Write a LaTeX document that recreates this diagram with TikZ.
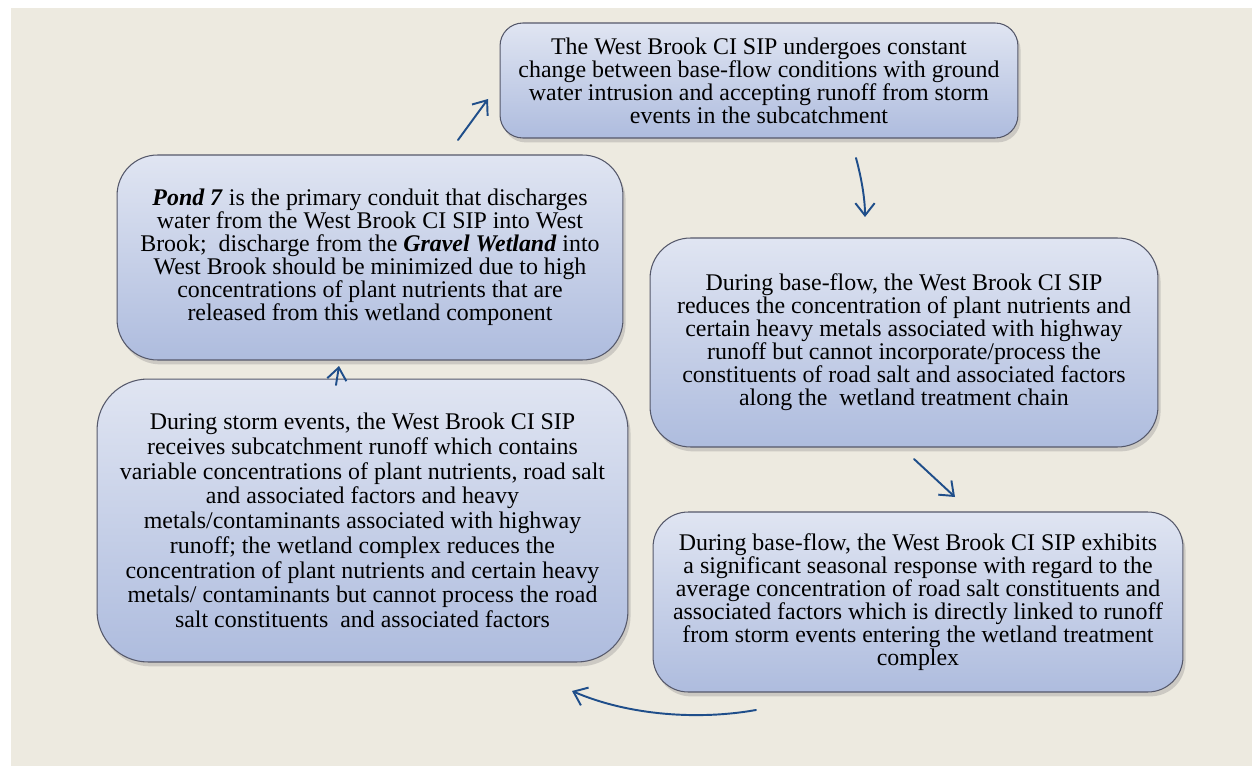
\documentclass[tikz,border=0pt]{standalone}
\usepackage{fontspec}
\setmainfont{Liberation Serif}
\definecolor{PageBeige}{HTML}{EDEAE0}
\definecolor{BoxTop}{HTML}{E0E5F2}
\definecolor{BoxBottom}{HTML}{AEBCDE}
\definecolor{BoxEdge}{HTML}{55586A}
\definecolor{FlowBlue}{HTML}{1F4E8A}
\usetikzlibrary{arrows.meta, positioning, calc, shadows}

\begin{document}
\begin{tikzpicture}[x=0.02cm, y=-0.02cm,
    stage/.style={draw=BoxEdge, line width=0.6pt, top color=BoxTop, bottom color=BoxBottom,
      drop shadow={opacity=0.3, shadow xshift=1.5pt, shadow yshift=-2.5pt},
      align=center, inner sep=0pt,
      font=\fontsize{13.6}{13.1}\selectfont},
    flow/.style={FlowBlue, line width=1.1pt, line cap=round, -{Straight Barb[length=7pt, width=11pt]}}]
  \useasboundingbox (0,0) rectangle (1252,767);
  \fill[white] (0,0) rectangle (1252,767);
  \fill[PageBeige] (11,8) rectangle (1252,766);
  % Top stage
  \node[stage, rounded corners=13pt, minimum width=10.36cm, minimum height=2.3cm] (exchange) at (759,80.5)
    {The West Brook CI SIP undergoes constant\\
     change between base-flow conditions with ground\\
     water intrusion and accepting runoff from storm\\
     events in the subcatchment};
  % Outlet stage
  \node[stage, rounded corners=23pt, minimum width=10.12cm, minimum height=4.1cm] (outlet) at (370,257.5)
    {\textbf{\textit{Pond 7}} is the primary conduit that discharges\\
     water from the West Brook CI SIP into West\\
     Brook;~ discharge from the \textbf{\textit{Gravel Wetland}} into\\
     West Brook should be minimized due to high\\
     concentrations of plant nutrients that are\\
     released from this wetland component};
  % Base-flow stage
  \node[stage, rounded corners=23pt, minimum width=10.16cm, minimum height=4.18cm] (baseflow) at (904,342.5)
    {During base-flow, the West Brook CI SIP\\
     reduces the concentration of plant nutrients and\\
     certain heavy metals associated with highway\\
     runoff but cannot incorporate/process the\\
     constituents of road salt and associated factors\\
     along the~ wetland treatment chain};
  % Seasonal stage
  \node[stage, rounded corners=20pt, minimum width=10.6cm, minimum height=3.6cm] (seasonal) at (918,602)
    {During base-flow, the West Brook CI SIP exhibits\\
     a significant seasonal response with regard to the\\
     average concentration of road salt constituents and\\
     associated factors which is directly linked to runoff\\
     from storm events entering the wetland treatment\\
     complex};
  % Storm stage
  \node[stage, rounded corners=29pt, minimum width=10.62cm, minimum height=5.66cm,
        font=\fontsize{13.6}{14.1}\selectfont] (storm) at (362.5,520.5)
    {During storm events, the West Brook CI SIP\\
     receives subcatchment runoff which contains\\
     variable concentrations of plant nutrients, road salt\\
     and associated factors and heavy\\
     metals/contaminants associated with highway\\
     runoff; the wetland complex reduces the\\
     concentration of plant nutrients and certain heavy\\
     metals/ contaminants but cannot process the road\\
     salt constituents~ and associated factors};
  % Arrow ends
  \coordinate (up1) at (458,140);   \coordinate (up2) at (488,99);
  \coordinate (dn1) at (856,158);   \coordinate (dn2) at (865,217);
  \coordinate (dg1) at (914,459);   \coordinate (dg2) at (955,497);
  \coordinate (bk1) at (756,710);   \coordinate (bk2) at (572,691);
  \coordinate (st1) at (336,385);   \coordinate (st2) at (339,366);
  % Cycle arrows
  \draw[flow] (up1) -- (up2);
  \draw[flow] (dn1) .. controls (862,180) and (865,200) .. (dn2);
  \draw[flow] (dg1) -- (dg2);
  \draw[flow] (bk1) .. controls (700,720) and (630,716) .. (bk2);
  \draw[flow] (st1) -- (st2);
\end{tikzpicture}
\end{document}
